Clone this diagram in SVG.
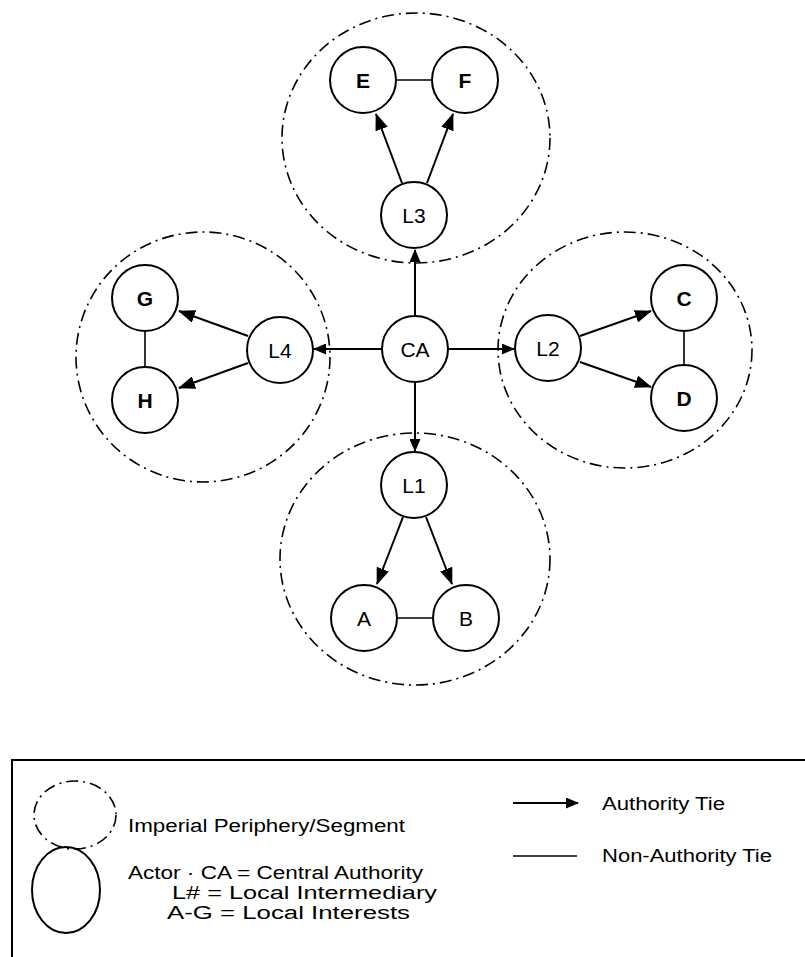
<svg xmlns="http://www.w3.org/2000/svg" width="805" height="957" viewBox="0 0 805 957">
<style>
.seg{fill:none;stroke:#000;stroke-width:1.6;stroke-dasharray:12 5 2 5}
.node{fill:#fff;stroke:#000;stroke-width:2}
.lbl{font-family:"Liberation Sans",Arial,sans-serif;font-size:21px;text-anchor:middle;fill:#000}
.b{font-weight:bold}
.auth{stroke:#000;stroke-width:2;fill:none;marker-end:url(#ah)}
.auths{stroke:#000;stroke-width:2;fill:none;marker-end:url(#ahs)}
.tie{stroke:#000;stroke-width:1.6;fill:none}
.leg{font-family:"Liberation Sans",Arial,sans-serif;font-size:18px;fill:#000}
</style>
<defs>
<marker id="ah" markerUnits="userSpaceOnUse" markerWidth="17" markerHeight="13" refX="16" refY="6.5" orient="auto">
<path d="M0,0 L17,6.5 L0,13 z" fill="#000"/>
</marker>
<marker id="ahs" markerUnits="userSpaceOnUse" markerWidth="13" markerHeight="11" refX="12" refY="5.5" orient="auto">
<path d="M0,0 L13,5.5 L0,11 z" fill="#000"/>
</marker>
</defs>
<rect width="805" height="957" fill="#fff"/>
<g id="segments">
<ellipse class="seg" cx="416" cy="138" rx="134" ry="125"/>
<ellipse class="seg" cx="415" cy="559" rx="135" ry="126"/>
<ellipse class="seg" cx="203" cy="357" rx="127" ry="125"/>
<ellipse class="seg" cx="625" cy="350" rx="127" ry="118"/>
</g>
<g id="connectors">
<line class="tie" x1="396" y1="80" x2="432" y2="80"/>
<line class="tie" x1="145" y1="331" x2="145" y2="367"/>
<line class="tie" x1="684" y1="331" x2="684" y2="365"/>
<line class="tie" x1="397" y1="618" x2="433" y2="618"/>
<line class="auths" x1="415" y1="316" x2="415" y2="250"/>
<line class="auths" x1="415" y1="382" x2="415" y2="451"/>
<line class="auths" x1="382" y1="349" x2="314" y2="349"/>
<line class="auths" x1="448" y1="349" x2="514" y2="349"/>
<line class="auth" x1="402" y1="183" x2="376" y2="114"/>
<line class="auth" x1="427" y1="183" x2="453" y2="114"/>
<line class="auth" x1="248" y1="336" x2="179" y2="311"/>
<line class="auth" x1="248" y1="363" x2="179" y2="388"/>
<line class="auth" x1="580" y1="336" x2="651" y2="311"/>
<line class="auth" x1="580" y1="362" x2="651" y2="387"/>
<line class="auth" x1="403" y1="517" x2="377" y2="584"/>
<line class="auth" x1="426" y1="517" x2="452" y2="584"/>
</g>
<g id="CA"><circle class="node" cx="415" cy="349" r="33"/><text class="lbl" x="415" y="357">CA</text></g>
<g id="L1"><circle class="node" cx="414" cy="485" r="33"/><text class="lbl" x="414" y="493">L1</text></g>
<g id="L2"><circle class="node" cx="548" cy="348" r="33"/><text class="lbl" x="548" y="356">L2</text></g>
<g id="L3"><circle class="node" cx="414" cy="215" r="33"/><text class="lbl" x="414" y="223">L3</text></g>
<g id="L4"><circle class="node" cx="280" cy="350" r="33"/><text class="lbl" x="280" y="358">L4</text></g>
<g id="E"><circle class="node" cx="363" cy="80" r="33"/><text class="lbl b" x="363" y="88">E</text></g>
<g id="F"><circle class="node" cx="465" cy="80" r="33"/><text class="lbl b" x="465" y="88">F</text></g>
<g id="G"><circle class="node" cx="145" cy="298" r="33"/><text class="lbl b" x="145" y="306">G</text></g>
<g id="H"><circle class="node" cx="145" cy="400" r="33"/><text class="lbl b" x="145" y="408">H</text></g>
<g id="C"><circle class="node" cx="684" cy="298" r="33"/><text class="lbl b" x="684" y="306">C</text></g>
<g id="D"><circle class="node" cx="684" cy="398" r="33"/><text class="lbl b" x="684" y="406">D</text></g>
<g id="A"><circle class="node" cx="364" cy="618" r="33"/><text class="lbl" x="364" y="626">A</text></g>
<g id="B"><circle class="node" cx="466" cy="618" r="33"/><text class="lbl" x="466" y="626">B</text></g>
<g id="legend">
<path d="M12,957 L12,760 L805,760" fill="none" stroke="#000" stroke-width="2"/>
<ellipse class="seg" cx="75" cy="815" rx="41" ry="34"/>
<ellipse fill="none" stroke="#000" stroke-width="2" cx="66" cy="890" rx="34" ry="43"/>
<text class="leg" x="128" y="832" textLength="277" lengthAdjust="spacingAndGlyphs">Imperial Periphery/Segment</text>
<text class="leg" x="128" y="879" textLength="295" lengthAdjust="spacingAndGlyphs">Actor · CA = Central Authority</text>
<text class="leg" x="172" y="899" textLength="265" lengthAdjust="spacingAndGlyphs">L# = Local Intermediary</text>
<text class="leg" x="167" y="919" textLength="243" lengthAdjust="spacingAndGlyphs">A-G = Local Interests</text>
<line class="auths" x1="513" y1="803" x2="578" y2="803"/>
<line class="tie" x1="513" y1="856" x2="577" y2="856"/>
<text class="leg" x="602" y="810" textLength="123" lengthAdjust="spacingAndGlyphs">Authority Tie</text>
<text class="leg" x="602" y="862" textLength="170" lengthAdjust="spacingAndGlyphs">Non-Authority Tie</text>
</g>
</svg>
